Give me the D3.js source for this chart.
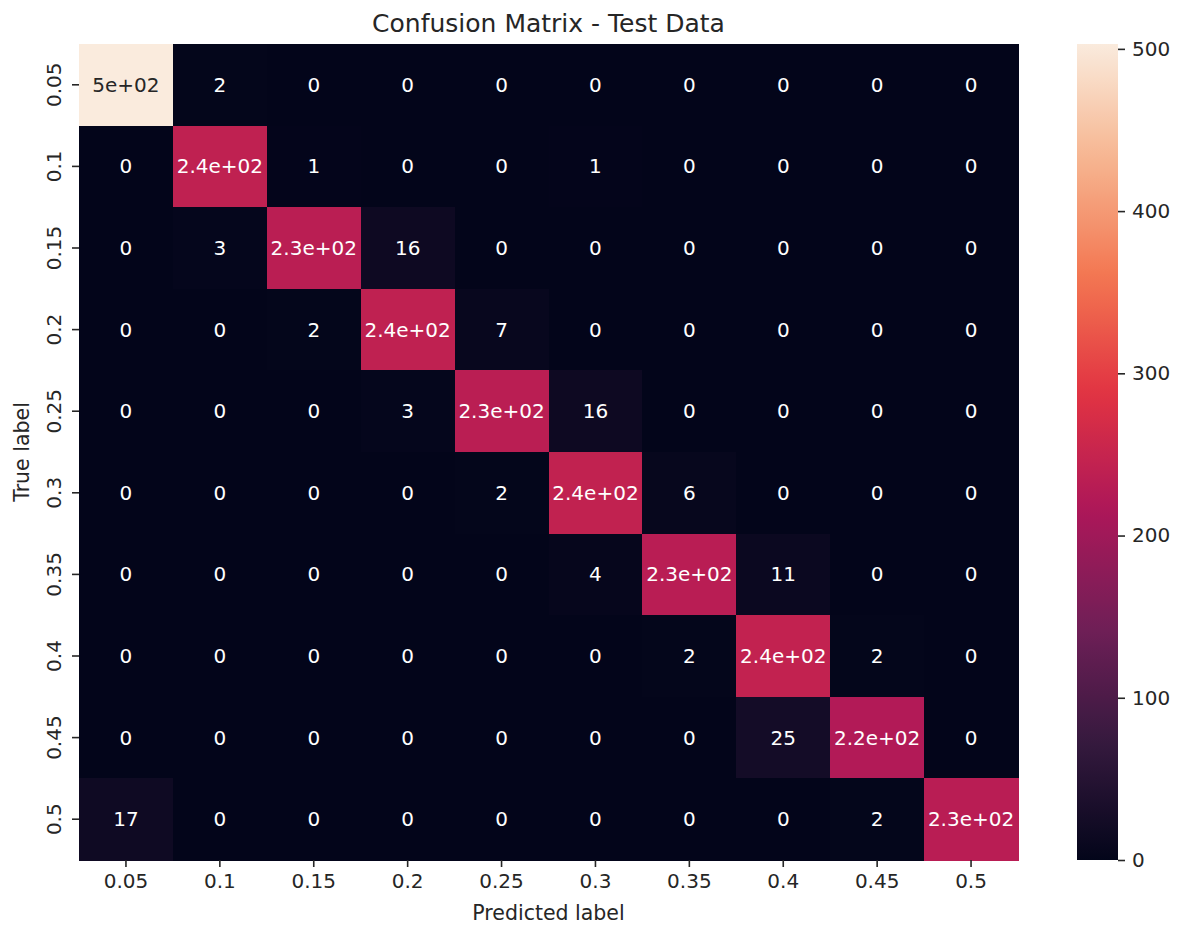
<!DOCTYPE html>
<html>
<head>
<meta charset="utf-8">
<script src="https://cdn.jsdelivr.net/npm/d3@7"></script>
<style>
  html, body { margin: 0; padding: 0; background: #ffffff; }
  svg { display: block; }
  text { font-family: "DejaVu Sans", sans-serif; }
</style>
</head>
<body>
<svg id="chart" width="1190" height="927"></svg>
<script>
// Class labels (predicted on x, true on y)
const labels = ["0.05", "0.1", "0.15", "0.2", "0.25", "0.3", "0.35", "0.4", "0.45", "0.5"];

// Confusion matrix counts, one row per true label
const row005 = [503, 2, 0, 0, 0, 0, 0, 0, 0, 0];
const row010 = [0, 240, 1, 0, 0, 1, 0, 0, 0, 0];
const row015 = [0, 3, 233, 16, 0, 0, 0, 0, 0, 0];
const row020 = [0, 0, 2, 241, 7, 0, 0, 0, 0, 0];
const row025 = [0, 0, 0, 3, 234, 16, 0, 0, 0, 0];
const row030 = [0, 0, 0, 0, 2, 243, 6, 0, 0, 0];
const row035 = [0, 0, 0, 0, 0, 4, 232, 11, 0, 0];
const row040 = [0, 0, 0, 0, 0, 0, 2, 244, 2, 0];
const row045 = [0, 0, 0, 0, 0, 0, 0, 25, 222, 0];
const row050 = [17, 0, 0, 0, 0, 0, 0, 0, 2, 232];
const matrix = [row005, row010, row015, row020, row025, row030, row035, row040, row045, row050];

// Colorbar tick values
const cbarTicks = [0, 100, 200, 300, 400, 500];

const titleText = "Confusion Matrix - Test Data";
const xLabelText = "Predicted label";
const yLabelText = "True label";

// "rocket" colormap control points
const rocketStops = ["#03051a", "#35193e", "#701f57", "#ad1759", "#e13342", "#f37651", "#f6b48f", "#faebdd"];
const rocket = d3.scaleLinear()
  .domain(rocketStops.map((_, i) => i / (rocketStops.length - 1)))
  .range(rocketStops)
  .interpolate(d3.interpolateRgb)
  .clamp(true);

const cells = [];
matrix.forEach((row, i) => row.forEach((v, j) => cells.push({ t: labels[i], p: labels[j], v })));

const vmax = d3.max(cells, d => d.v);
const color = d3.scaleSequential(t => rocket(t)).domain([0, vmax]);

// Two significant digits, written like Python's "{:.2g}"
function fmt2g(v) {
  let s = Number(v).toPrecision(2);
  if (s.includes("e")) {
    let [m, e] = s.split("e");
    if (m.includes(".")) m = m.replace(/0+$/, "").replace(/\.$/, "");
    const sign = e[0] === "-" ? "-" : "+";
    let digits = e.replace(/^[+-]/, "");
    if (digits.length < 2) digits = "0" + digits;
    return m + "e" + sign + digits;
  }
  if (s.includes(".")) s = s.replace(/0+$/, "").replace(/\.$/, "");
  return s;
}

// Relative luminance, used to pick a readable annotation colour
function luminance(c) {
  const rgb = d3.rgb(c);
  const f = x => { x /= 255; return x <= 0.03928 ? x / 12.92 : Math.pow((x + 0.055) / 1.055, 2.4); };
  return 0.2126 * f(rgb.r) + 0.7152 * f(rgb.g) + 0.0722 * f(rgb.b);
}

const svg = d3.select("#chart");
const inkColor = "#262626";

const plotLeft = 79, plotRight = 1018, plotTop = 44, plotBottom = 860;

const x = d3.scaleBand().domain(labels).range([plotLeft, plotRight]).padding(0);
const y = d3.scaleBand().domain(labels).range([plotTop, plotBottom]).padding(0);

// Heatmap cells
svg.append("g").attr("shape-rendering", "crispEdges").selectAll("rect")
  .data(cells)
  .join("rect")
  .attr("x", d => x(d.p))
  .attr("y", d => y(d.t))
  .attr("width", x.bandwidth() + 1)
  .attr("height", y.bandwidth() + 1)
  .attr("fill", d => color(d.v));

// Annotations
svg.append("g").selectAll("text")
  .data(cells)
  .join("text")
  .attr("x", d => x(d.p) + x.bandwidth() / 2)
  .attr("y", d => y(d.t) + y.bandwidth() / 2)
  .attr("text-anchor", "middle")
  .attr("dominant-baseline", "central")
  .attr("font-size", 20)
  .attr("fill", d => luminance(color(d.v)) > 0.408 ? inkColor : "#ffffff")
  .text(d => fmt2g(d.v));

// Axes
const xAxis = d3.axisBottom(x).tickSize(7).tickPadding(7);
const gx = svg.append("g").attr("transform", `translate(0,${plotBottom})`).call(xAxis);
gx.select(".domain").remove();
gx.selectAll(".tick line").attr("stroke", inkColor).attr("stroke-width", 1.6);
gx.selectAll(".tick text").attr("font-size", 20).attr("fill", inkColor).attr("font-family", "DejaVu Sans");

const yAxis = d3.axisLeft(y).tickSize(7).tickPadding(7);
const gy = svg.append("g").attr("transform", `translate(${plotLeft},0)`).call(yAxis);
gy.select(".domain").remove();
gy.selectAll(".tick line").attr("stroke", inkColor).attr("stroke-width", 1.6);
gy.selectAll(".tick text")
  .attr("font-size", 20).attr("fill", inkColor).attr("font-family", "DejaVu Sans")
  .attr("text-anchor", "middle")
  .attr("dy", null)
  .attr("dominant-baseline", "central")
  .attr("x", 0).attr("y", 0)
  .attr("transform", "translate(-25,0) rotate(-90)");

// Axis titles and chart title
svg.append("text")
  .attr("x", (plotLeft + plotRight) / 2).attr("y", 920)
  .attr("text-anchor", "middle").attr("font-size", 20.5).attr("fill", inkColor)
  .text(xLabelText);

svg.append("text")
  .attr("transform", `translate(29,${(plotTop + plotBottom) / 2}) rotate(-90)`)
  .attr("text-anchor", "middle").attr("font-size", 20.5).attr("fill", inkColor)
  .text(yLabelText);

svg.append("text")
  .attr("x", (plotLeft + plotRight) / 2).attr("y", 32)
  .attr("text-anchor", "middle").attr("font-size", 25).attr("fill", inkColor)
  .text(titleText);

// Colorbar
const cbLeft = 1077, cbWidth = 41;
const cbScale = d3.scaleLinear().domain([0, vmax]).range([plotBottom, plotTop]);

const defs = svg.append("defs");
const grad = defs.append("linearGradient")
  .attr("id", "cbar-grad")
  .attr("x1", 0).attr("y1", 1).attr("x2", 0).attr("y2", 0);
d3.range(0, 1.0001, 0.02).forEach(t => {
  grad.append("stop").attr("offset", t).attr("stop-color", rocket(t));
});

svg.append("rect")
  .attr("x", cbLeft).attr("y", plotTop)
  .attr("width", cbWidth).attr("height", plotBottom - plotTop)
  .attr("fill", "url(#cbar-grad)");

const cbAxis = d3.axisRight(cbScale).tickValues(cbarTicks).tickSize(7).tickPadding(7);
const gc = svg.append("g").attr("transform", `translate(${cbLeft + cbWidth},0)`).call(cbAxis);
gc.select(".domain").remove();
gc.selectAll(".tick line").attr("stroke", inkColor).attr("stroke-width", 1.6);
gc.selectAll(".tick text").attr("font-size", 20).attr("fill", inkColor).attr("font-family", "DejaVu Sans");
</script>
</body>
</html>
